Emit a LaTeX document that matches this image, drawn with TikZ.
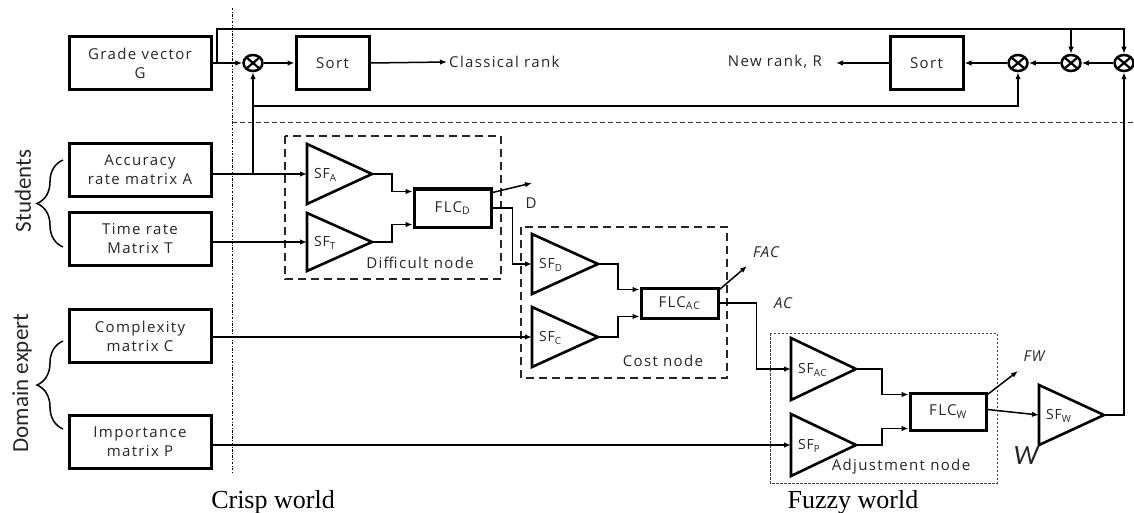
\documentclass[tikz,border=0pt]{standalone}
\usepackage{fontspec}
\setmainfont{Liberation Serif}
\newfontfamily\boxfont[LetterSpace=9]{Open Sans}
\newfontfamily\labfont[LetterSpace=5]{Open Sans}
\newfontfamily\sidefont{Carlito}
\usetikzlibrary{arrows.meta,decorations.pathreplacing,shapes.geometric}
\newcommand\sfblock[6]{%
  \draw[tri] (#2,#3-#4) -- (#5,#3) -- (#2,#3+#4) -- cycle;
  \coordinate (#1-in) at (#2,#3);
  \coordinate (#1-out) at (#5,#3);
  \node[sflab, anchor=west] (#1) at (#2+7,#3+1) {#6};
}
\tikzset{
  blk/.style={draw, line width=3pt, minimum width=142pt, minimum height=53pt, align=center,
    inner sep=0pt, font=\boxfont\fontsize{15}{19}\selectfont, text=black!85},
  sortb/.style={blk, minimum width=73pt},
  flc/.style={draw, line width=3pt, inner sep=0pt, font=\boxfont\fontsize{15}{17}\selectfont, text=black!85},
  sflab/.style={inner sep=0pt, font=\labfont\fontsize{14}{15}\selectfont, text=black!85},
  tri/.style={draw, line width=2.6pt, line join=miter},
  conn/.style={line width=1.5pt},
  arr/.style={line width=1.5pt, -{Latex[length=7pt,width=5.5pt]}},
  mult/.style={ellipse, draw, line width=2.5pt, minimum width=19pt, minimum height=16pt, inner sep=0pt,
    path picture={\draw[line width=2.2pt] (path picture bounding box.north west) -- (path picture bounding box.south east)
      (path picture bounding box.north east) -- (path picture bounding box.south west);}},
  grp/.style={draw=black!85, line width=2.2pt, dash pattern=on 8pt off 5pt},
  grpthin/.style={draw=black!75, line width=1pt, dash pattern=on 2.5pt off 1.5pt},
  grplab/.style={inner sep=0pt, font=\boxfont\fontsize{15}{17}\selectfont, text=black!85},
  txt/.style={inner sep=2pt, font=\boxfont\fontsize{15}{17}\selectfont, text=black!85},
  itl/.style={inner sep=0pt, font=\labfont\itshape\fontsize{15}{17}\selectfont, text=black!85},
  side/.style={inner sep=0pt, font=\sidefont\fontsize{23}{26}\selectfont, text=black!85},
  brace/.style={line width=1.5pt, decorate, decoration={brace, amplitude=26pt}},
  world/.style={inner sep=0pt, font=\fontsize{26}{30}\selectfont},
  sepv/.style={line width=0.9pt, dash pattern=on 2.5pt off 1.5pt on 0.8pt off 1.5pt},
  seph/.style={line width=0.9pt, draw=black!80, dash pattern=on 5pt off 3pt},
}
\begin{document}
\begin{tikzpicture}[x=1pt,y=-1pt]
\useasboundingbox (0,0) rectangle (1134,513);
% separators
\draw[sepv] (232,8) -- (232,474);
\draw[seph] (232,122) -- (1134,122);
% side labels
\node[side, rotate=90] (stu) at (23,191) {Students};
\node[side, rotate=90] (dom) at (22,383) {Domain expert};
\draw[brace] (63,247) -- (63,160);
\draw[brace] (63,429) -- (63,341);
% input boxes
\node[blk] (g) at (140,63) {Grade vector\\G};
\node[blk] (acc) at (140,170) {Accuracy\\rate matrix A};
\node[blk] (tim) at (140,239) {Time rate\\Matrix T};
\node[blk] (cmp) at (140,336) {Complexity\\matrix C};
\node[blk] (imp) at (140,442) {Importance\\matrix P};
% top row
\node[mult] (m1) at (253,63) {};
\node[sortb] (s1) at (332.5,63) {Sort};
\node[txt, anchor=west] (clr) at (447,62) {Classical rank};
\node[txt, anchor=east] (nr) at (824,62) {New rank, R};
\coordinate (nrtip) at (836,63);
\node[sortb] (s2) at (926.5,63) {Sort};
\node[mult] (ma) at (1018,63) {};
\node[mult] (mb) at (1071,63) {};
\node[mult] (mc) at (1124,63) {};
\coordinate (gb) at (217,63);
\coordinate (topy) at (0,29);
\coordinate (fby) at (0,106);
% group boxes
\draw[grp] (285,136) rectangle (501,279);
\draw[grp] (521,227) rectangle (727,378);
\draw[grpthin] (770,333) rectangle (997,483);
\node[grplab] (dn) at (420,263) {Difficult node};
\node[grplab] (cn) at (663,361) {Cost node};
\node[grplab] (an) at (901,467) {Adjustment node};
% scaling functions
\sfblock{sfa}{307}{174}{30}{372}{SF\textsubscript{A}}
\sfblock{sft}{307}{242}{29}{372}{SF\textsubscript{T}}
\sfblock{sfd}{532}{264}{30}{598}{SF\textsubscript{D}}
\sfblock{sfc}{532}{337}{30}{598}{SF\textsubscript{C}}
\sfblock{sfac}{791}{369}{31}{856}{SF\textsubscript{AC}}
\sfblock{sfp}{791}{445}{31}{856}{SF\textsubscript{P}}
\sfblock{sfw}{1039}{415}{30}{1104}{SF\textsubscript{W}}
% FLC boxes
\node[flc, minimum width=77pt, minimum height=38pt] (flcd) at (452.5,208) {FLC\textsubscript{D}};
\node[flc, minimum width=77pt, minimum height=30pt] (flcac) at (679.5,303) {FLC\textsubscript{AC}};
\node[flc, minimum width=76pt, minimum height=37pt] (flcw) at (948,411.5) {FLC\textsubscript{W}};
% output labels
\coordinate (dtip) at (532,183);
\node[txt, inner sep=0pt] (dl) at (531,203) {D};
\coordinate (factip) at (747,266);
\node[itl] (facl) at (766,252) {FAC};
\node[itl] (acl) at (783,303) {AC};
\coordinate (fwtip) at (1018,371);
\node[itl] (fwl) at (1034,356) {FW};
\node[inner sep=0pt, font=\sidefont\itshape\fontsize{28}{30}\selectfont, text=black!85] (wl) at (1026,456) {W};
% top connectors
\draw[arr] (g.east) -- (m1.west);
\draw[arr] (m1.east) -- (s1.west);
\draw[arr] (s1.east) -- (clr.west);
\draw[arr] (gb) -- (gb |- topy) -| (mc.north);
\draw[arr] (mb.north |- topy) -- (mb.north);
\draw[arr] (mc.west) -- (mb.east);
\draw[arr] (mb.west) -- (ma.east);
\draw[arr] (ma.west) -- (s2.east);
\draw[arr] (s2.west) -- (nrtip);
\draw[arr] (m1.south |- sfa-in) -- (m1.south);
\draw[arr] (m1.south |- fby) -| (ma.south);
% inputs
\draw[arr] (acc.east |- sfa-in) -- (sfa-in);
\draw[arr] (tim.east |- sft-in) -- (sft-in);
\draw[arr] (cmp.east |- sfc-in) -- (sfc-in);
\draw[arr] (imp.east |- sfp-in) -- (sfp-in);
% difficult node
\draw[arr] (sfa-out) -- ++(20,0) |- ([yshift=-4pt]flcd.north west);
\draw[arr] (sft-out) -- ++(20,0) |- ([yshift=4pt]flcd.south west);
\draw[arr] ([yshift=-5pt]flcd.north east) -- (dtip);
\draw[arr] (flcd.east) -- ++(20,0) |- (sfd-in);
% cost node
\draw[arr] (sfd-out) -- ++(20,0) |- ([yshift=-3pt]flcac.north west);
\draw[arr] (sfc-out) -- ++(20,0) |- ([yshift=3pt]flcac.south west);
\draw[arr] ([yshift=-3pt]flcac.north east) -- (factip);
\draw[arr] (flcac.east) -- ++(37,0) |- (sfac-in);
% adjustment node
\draw[arr] (sfac-out) -- ++(26,0) |- ([yshift=-3pt]flcw.north west);
\draw[arr] (sfp-out) -- ++(26,0) |- ([yshift=3pt]flcw.south west);
\draw[arr] ([yshift=-3pt]flcw.north east) -- (fwtip);
\draw[arr] ([yshift=2pt]flcw.east) -- (sfw-in);
\draw[arr] (sfw-out) -| (mc.south);
% worlds
\node[world, anchor=base] (cw) at (273,508) {Crisp world};
\node[world, anchor=base] (fzw) at (853,508) {Fuzzy world};
\end{tikzpicture}
\end{document}
